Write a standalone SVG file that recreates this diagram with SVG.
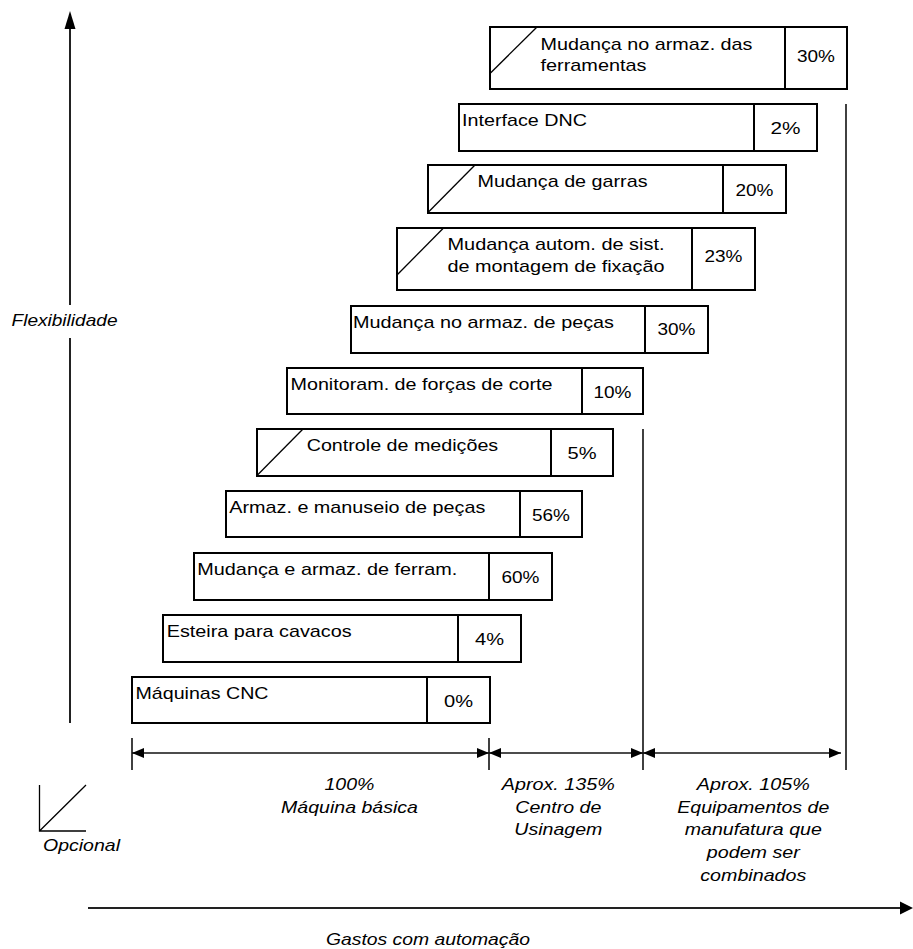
<svg xmlns="http://www.w3.org/2000/svg" width="913" height="949" viewBox="0 0 913 949">
<style>
text{font-family:"Liberation Sans",Arial,sans-serif;font-size:17px;fill:#000}
.it{font-style:italic}
.mid{text-anchor:middle}
.box{fill:#fff;stroke:#000;stroke-width:2}
.dv{stroke:#000;stroke-width:2}
.dg{stroke:#000;stroke-width:1.3;fill:none}
.ln{stroke:#111;stroke-width:1.6;fill:none}
.ax{stroke:#222;stroke-width:2;fill:none}
</style>
<defs>
<marker id="ah" viewBox="0 0 12 10" refX="12" refY="5" markerWidth="12" markerHeight="10" orient="auto-start-reverse" markerUnits="userSpaceOnUse"><path d="M0,0 L12,5 L0,10 z" fill="#000"/></marker>
</defs>

<g id="axes">
<line class="ax" x1="70" y1="28" x2="70" y2="305"/>
<line class="ax" x1="70" y1="338" x2="70" y2="723"/>
<polygon points="70,11 64.5,29 75.5,29" fill="#000"/>
<text id="flex" class="it mid" x="64.5" y="326" textLength="106" lengthAdjust="spacingAndGlyphs">Flexibilidade</text>
<line class="ax" x1="88" y1="908" x2="902" y2="908" stroke-width="2.6"/>
<polygon points="913,908 900,901.5 900,914.5" fill="#000"/>
<text class="it mid" x="428" y="945" textLength="204" lengthAdjust="spacingAndGlyphs">Gastos com automação</text>
</g>

<g id="n1">
<rect class="box" x="490" y="27" width="357" height="62"/>
<line class="dv" x1="785" y1="27" x2="785" y2="89"/>
<line class="dg" x1="490" y1="73.5" x2="537" y2="27"/>
<text x="540.5" y="49.5" textLength="212" lengthAdjust="spacingAndGlyphs">Mudança no armaz. das</text>
<text x="540.5" y="71" textLength="106" lengthAdjust="spacingAndGlyphs">ferramentas</text>
<text class="mid" x="816" y="62" textLength="38" lengthAdjust="spacingAndGlyphs">30%</text>
</g>
<g id="n2">
<rect class="box" x="459" y="104" width="358" height="47"/>
<line class="dv" x1="754" y1="104" x2="754" y2="151"/>
<text x="462" y="126" textLength="125" lengthAdjust="spacingAndGlyphs">Interface DNC</text>
<text class="mid" x="785.5" y="134" textLength="30" lengthAdjust="spacingAndGlyphs">2%</text>
</g>
<g id="n3">
<rect class="box" x="428" y="165" width="358" height="48"/>
<line class="dv" x1="723" y1="165" x2="723" y2="213"/>
<line class="dg" x1="428" y1="212.5" x2="475" y2="165"/>
<text x="477.5" y="187" textLength="170" lengthAdjust="spacingAndGlyphs">Mudança de garras</text>
<text class="mid" x="754.5" y="196" textLength="38" lengthAdjust="spacingAndGlyphs">20%</text>
</g>
<g id="n4">
<rect class="box" x="397" y="228" width="358" height="62"/>
<line class="dv" x1="692" y1="228" x2="692" y2="290"/>
<line class="dg" x1="397" y1="275" x2="443.5" y2="228"/>
<text x="447.5" y="249.5" textLength="217" lengthAdjust="spacingAndGlyphs">Mudança autom. de sist.</text>
<text x="447.5" y="272" textLength="217" lengthAdjust="spacingAndGlyphs">de montagem de fixação</text>
<text class="mid" x="723.5" y="262" textLength="38" lengthAdjust="spacingAndGlyphs">23%</text>
</g>
<g id="n5">
<rect class="box" x="351" y="306" width="357" height="47"/>
<line class="dv" x1="645" y1="306" x2="645" y2="353"/>
<text x="353" y="327.5" textLength="261" lengthAdjust="spacingAndGlyphs">Mudança no armaz. de peças</text>
<text class="mid" x="676.5" y="335" textLength="38" lengthAdjust="spacingAndGlyphs">30%</text>
</g>
<g id="n6">
<rect class="box" x="287" y="368" width="356" height="46"/>
<line class="dv" x1="582" y1="368" x2="582" y2="414"/>
<text x="290.5" y="389.5" textLength="262" lengthAdjust="spacingAndGlyphs">Monitoram. de forças de corte</text>
<text class="mid" x="612.5" y="397.5" textLength="38" lengthAdjust="spacingAndGlyphs">10%</text>
</g>
<g id="n7">
<rect class="box" x="257" y="429" width="356" height="47"/>
<line class="dv" x1="551" y1="429" x2="551" y2="476"/>
<line class="dg" x1="257" y1="475.5" x2="303" y2="429"/>
<text x="306.7" y="450.5" textLength="191.5" lengthAdjust="spacingAndGlyphs">Controle de medições</text>
<text class="mid" x="582" y="459" textLength="29" lengthAdjust="spacingAndGlyphs">5%</text>
</g>
<g id="n8">
<rect class="box" x="226" y="491" width="356" height="46"/>
<line class="dv" x1="520" y1="491" x2="520" y2="537"/>
<text x="229.3" y="512.5" textLength="256" lengthAdjust="spacingAndGlyphs">Armaz. e manuseio de peças</text>
<text class="mid" x="551" y="521" textLength="38" lengthAdjust="spacingAndGlyphs">56%</text>
</g>
<g id="n9">
<rect class="box" x="194" y="553" width="358" height="47"/>
<line class="dv" x1="489" y1="553" x2="489" y2="600"/>
<text x="197.3" y="574.5" textLength="260" lengthAdjust="spacingAndGlyphs">Mudança e armaz. de ferram.</text>
<text class="mid" x="520.5" y="583" textLength="38" lengthAdjust="spacingAndGlyphs">60%</text>
</g>
<g id="n10">
<rect class="box" x="163" y="615" width="358" height="47"/>
<line class="dv" x1="458" y1="615" x2="458" y2="662"/>
<text x="166.7" y="636.5" textLength="185" lengthAdjust="spacingAndGlyphs">Esteira para cavacos</text>
<text class="mid" x="489.5" y="645" textLength="29" lengthAdjust="spacingAndGlyphs">4%</text>
</g>
<g id="n11">
<rect class="box" x="132" y="677" width="358" height="46"/>
<line class="dv" x1="427" y1="677" x2="427" y2="723"/>
<text x="135.5" y="698.5" textLength="133" lengthAdjust="spacingAndGlyphs">Máquinas CNC</text>
<text class="mid" x="458.5" y="707" textLength="29" lengthAdjust="spacingAndGlyphs">0%</text>
</g>

<g id="connectors">
<line class="ln" x1="132" y1="738" x2="132" y2="770"/>
<line class="ln" x1="489" y1="738" x2="489" y2="770"/>
<line class="ln" x1="643" y1="429" x2="643" y2="770"/>
<line class="ln" x1="846" y1="104" x2="846" y2="770"/>
<line class="ln" x1="132" y1="753" x2="489" y2="753" marker-start="url(#ah)" marker-end="url(#ah)"/>
<line class="ln" x1="489" y1="753" x2="643" y2="753" marker-start="url(#ah)" marker-end="url(#ah)"/>
<line class="ln" x1="643" y1="753" x2="841" y2="753" marker-start="url(#ah)" marker-end="url(#ah)"/>
</g>

<g id="labels">
<text class="it mid" x="349.5" y="790" textLength="50" lengthAdjust="spacingAndGlyphs">100%</text>
<text class="it mid" x="349.5" y="813" textLength="137" lengthAdjust="spacingAndGlyphs">Máquina básica</text>
<text class="it mid" x="558.3" y="790" textLength="113" lengthAdjust="spacingAndGlyphs">Aprox. 135%</text>
<text class="it mid" x="558.3" y="812.7" textLength="86" lengthAdjust="spacingAndGlyphs">Centro de</text>
<text class="it mid" x="558.3" y="835.4" textLength="88" lengthAdjust="spacingAndGlyphs">Usinagem</text>
<text class="it mid" x="753.3" y="790" textLength="113" lengthAdjust="spacingAndGlyphs">Aprox. 105%</text>
<text class="it mid" x="753.3" y="812.7" textLength="152" lengthAdjust="spacingAndGlyphs">Equipamentos de</text>
<text class="it mid" x="753.3" y="835.4" textLength="137" lengthAdjust="spacingAndGlyphs">manufatura que</text>
<text class="it mid" x="753.3" y="858.1" textLength="93" lengthAdjust="spacingAndGlyphs">podem ser</text>
<text class="it mid" x="753.3" y="880.8" textLength="106" lengthAdjust="spacingAndGlyphs">combinados</text>
</g>

<g id="legend">
<path class="dg" d="M39.5,785 L39.5,831 L86,831 M39.5,831 L86,785"/>
<text class="it" x="43" y="851" textLength="77" lengthAdjust="spacingAndGlyphs">Opcional</text>
</g>
</svg>
